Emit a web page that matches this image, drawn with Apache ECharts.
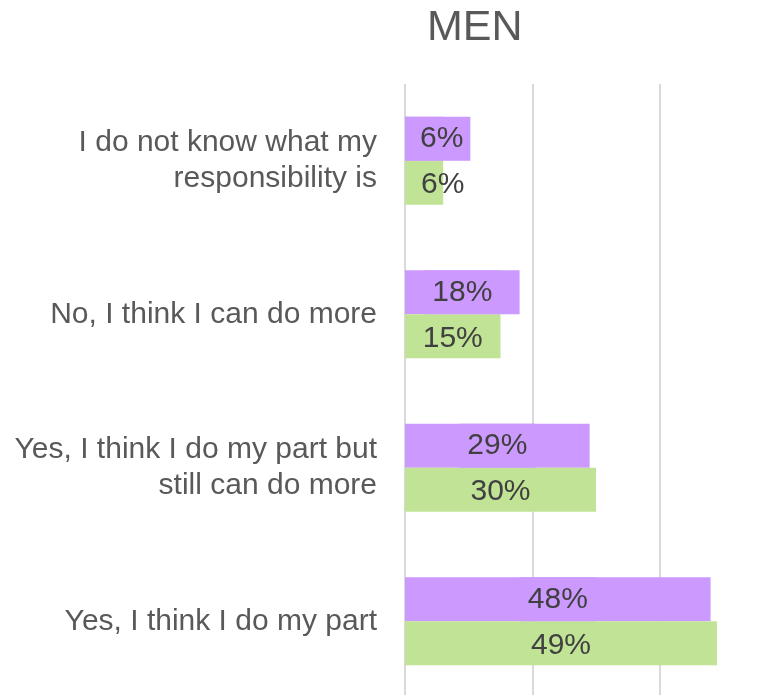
<!DOCTYPE html>
<html>
<head>
<meta charset="utf-8">
<script src="https://cdn.jsdelivr.net/npm/echarts@6/dist/echarts.min.js"></script>
<style>
html,body{margin:0;padding:0;background:#fff;}
#chart{width:782px;height:695px;}
</style>
</head>
<body>
<div id="chart"></div>
<script>
const categories = [
  "I do not know what my\nresponsibility is",
  "No, I think I can do more",
  "Yes, I think I do my part but\nstill can do more",
  "Yes, I think I do my part"
];
const purpleValues = [0.06, 0.18, 0.29, 0.48];
const greenValues = [0.06, 0.15, 0.30, 0.49];
const xTicks = [0, 0.2, 0.4, 0.6];

const FONT = '"Liberation Sans", Arial, sans-serif';
const PURPLE = '#CC99FF';
const GREEN = '#C1E396';

function pct(p) { return Math.round(p.value * 100) + '%'; }

function buildData(values, withBg) {
  return values.map(v => {
    const item = { value: v };
    if (v < 0.1) {
      item.label = withBg
        ? { position: 'insideLeft', distance: 0, padding: [7, 7, 7, 15] }
        : { position: 'insideLeft', distance: 16 };
    }
    return item;
  });
}

const chart = echarts.init(document.getElementById('chart'));
chart.setOption({
  animation: false,
  backgroundColor: '#ffffff',
  title: {
    text: 'MEN',
    left: 427,
    top: 7,
    padding: 0,
    textStyle: { fontFamily: FONT, fontSize: 43, fontWeight: 'normal', color: '#595959' }
  },
  grid: { left: 405, top: 84, width: 382, height: 614, containLabel: false, outerBoundsMode: 'none' },
  xAxis: {
    type: 'value',
    min: xTicks[0],
    max: xTicks[xTicks.length - 1],
    interval: 0.2,
    axisLabel: { show: false },
    axisLine: { show: false },
    axisTick: { show: false },
    splitLine: { show: true, lineStyle: { color: '#D9D9D9', width: 2 } }
  },
  yAxis: {
    type: 'category',
    inverse: true,
    data: categories,
    axisLine: { show: false },
    axisTick: { show: false },
    axisLabel: {
      margin: 28,
      fontFamily: FONT,
      fontSize: 30,
      lineHeight: 36,
      color: '#595959',
      align: 'right'
    }
  },
  series: [
    {
      type: 'bar',
      data: buildData(purpleValues, true),
      barWidth: 44,
      barGap: '0%',
      itemStyle: { color: PURPLE },
      label: {
        show: true,
        position: 'inside',
        formatter: pct,
        fontFamily: FONT,
        fontSize: 30,
        color: '#404040',
        backgroundColor: PURPLE,
        padding: [9, 8, 5, 8]
      }
    },
    {
      type: 'bar',
      data: buildData(greenValues, false),
      barWidth: 44,
      barGap: '0%',
      itemStyle: { color: GREEN },
      label: {
        show: true,
        position: 'inside',
        formatter: pct,
        fontFamily: FONT,
        fontSize: 30,
        color: '#404040',
        offset: [0, 2]
      }
    }
  ]
});
</script>
</body>
</html>
